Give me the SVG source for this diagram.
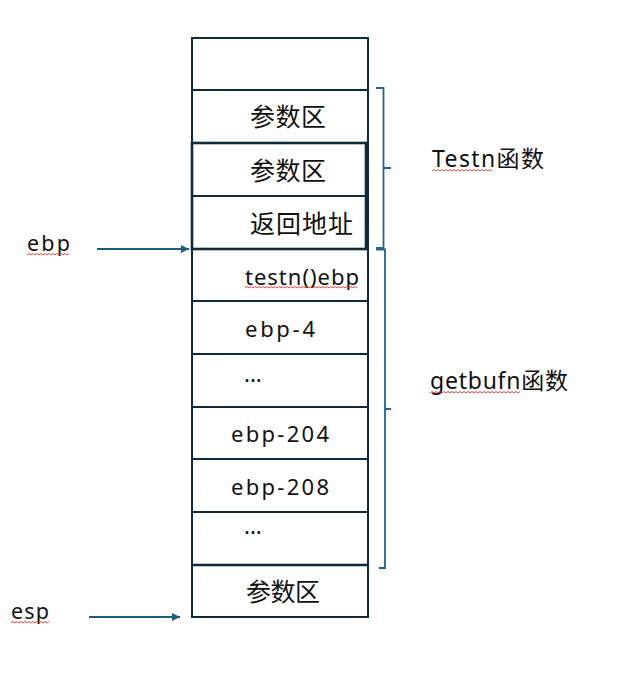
<svg xmlns="http://www.w3.org/2000/svg" width="617" height="677" viewBox="0 0 617 677">
<style>
.cell{fill:#fff;stroke:#0e2a3b;stroke-width:2}
.thick{fill:none;stroke:#0e2a3b;stroke-width:2.6}
.t{font-family:"Noto Sans","Liberation Sans","Noto Sans CJK SC",sans-serif;font-size:22px;fill:#111}
.cjk{font-family:"Noto Sans CJK SC","Liberation Sans",sans-serif;font-size:25px;fill:#111}
.lbl{font-family:"Noto Sans","Liberation Sans",sans-serif;font-size:21.5px;fill:#111}
.big{font-family:"Noto Sans","Noto Sans CJK SC",sans-serif;font-size:23px;fill:#111}
.br{fill:none;stroke:#21648c;stroke-width:1.8}
.arr{fill:none;stroke:#1b5e80;stroke-width:1.8}
.sq{fill:none;stroke:#e03030;stroke-width:0.9}
</style>
<defs>
<marker id="ah" viewBox="0 0 10 10" refX="10" refY="5" markerWidth="8" markerHeight="8" markerUnits="userSpaceOnUse" orient="auto">
<path d="M0,0 L10,5 L0,10 z" fill="#1b5e80"/>
</marker>
</defs>
<g id="stack">
<g id="cell0"><rect class="cell" x="192" y="38" width="176" height="52"/></g>
<g id="cell1"><rect class="cell" x="192" y="90" width="176" height="53"/><text class="cjk" x="250" y="126" textLength="76">参数区</text></g>
<g id="cell2"><rect class="cell" x="192" y="143" width="176" height="53"/><text class="cjk" x="250" y="179.5" textLength="76">参数区</text></g>
<g id="cell3"><rect class="cell" x="192" y="196" width="176" height="53"/><text class="cjk" x="250" y="232.5" textLength="103">返回地址</text></g>
<g id="cell4"><rect class="cell" x="192" y="249" width="176" height="52"/><text class="t" x="245" y="285" textLength="114">testn()ebp</text></g>
<g id="cell5"><rect class="cell" x="192" y="301" width="176" height="53"/><text class="t" x="245" y="337" textLength="70">ebp-4</text></g>
<g id="cell6"><rect class="cell" x="192" y="354" width="176" height="53"/><text class="t" x="244" y="382">...</text></g>
<g id="cell7"><rect class="cell" x="192" y="407" width="176" height="52"/><text class="t" x="231" y="442" textLength="98">ebp-204</text></g>
<g id="cell8"><rect class="cell" x="192" y="459" width="176" height="53"/><text class="t" x="231" y="494.5" textLength="98">ebp-208</text></g>
<g id="cell9"><rect class="cell" x="192" y="512" width="176" height="53"/><text class="t" x="244" y="534">...</text></g>
<g id="cell10"><rect class="cell" x="192" y="565" width="176" height="52"/><text class="cjk" x="246" y="601" textLength="74">参数区</text></g>
<rect class="thick" x="192" y="143" width="174" height="106"/>
<line class="thick" x1="192" y1="565" x2="368" y2="565"/>
</g>
<g id="labels">
<g id="ebp-label"><text class="lbl" x="27" y="251" textLength="43">ebp</text><path class="sq" d="M27,255 l2,-1.5 l2,1.5 l2,-1.5 l2,1.5 l2,-1.5 l2,1.5 l2,-1.5 l2,1.5 l2,-1.5 l2,1.5 l2,-1.5 l2,1.5 l2,-1.5 l2,1.5 l2,-1.5 l2,1.5 l2,-1.5 l2,1.5 l2,-1.5 l2,1.5 l2,-1.5"/></g>
<g id="esp-label"><text class="lbl" x="11" y="619" textLength="38">esp</text><path class="sq" d="M11,623 l2,-1.5 l2,1.5 l2,-1.5 l2,1.5 l2,-1.5 l2,1.5 l2,-1.5 l2,1.5 l2,-1.5 l2,1.5 l2,-1.5 l2,1.5 l2,-1.5 l2,1.5 l2,-1.5 l2,1.5 l2,-1.5 l2,1.5 l2,-1.5"/></g>
<g id="testn-label"><text class="big" x="432" y="167" textLength="112">Testn函数</text><path class="sq" d="M432,171 l2,-1.5 l2,1.5 l2,-1.5 l2,1.5 l2,-1.5 l2,1.5 l2,-1.5 l2,1.5 l2,-1.5 l2,1.5 l2,-1.5 l2,1.5 l2,-1.5 l2,1.5 l2,-1.5 l2,1.5 l2,-1.5 l2,1.5 l2,-1.5 l2,1.5 l2,-1.5 l2,1.5 l2,-1.5 l2,1.5 l2,-1.5 l2,1.5 l2,-1.5 l2,1.5 l2,-1.5 l2,1.5"/></g>
<g id="getbufn-label"><text class="big" x="430" y="389" textLength="138">getbufn函数</text><path class="sq" d="M430,393 l2,-1.5 l2,1.5 l2,-1.5 l2,1.5 l2,-1.5 l2,1.5 l2,-1.5 l2,1.5 l2,-1.5 l2,1.5 l2,-1.5 l2,1.5 l2,-1.5 l2,1.5 l2,-1.5 l2,1.5 l2,-1.5 l2,1.5 l2,-1.5 l2,1.5 l2,-1.5 l2,1.5 l2,-1.5 l2,1.5 l2,-1.5 l2,1.5 l2,-1.5 l2,1.5 l2,-1.5 l2,1.5 l2,-1.5 l2,1.5 l2,-1.5 l2,1.5 l2,-1.5 l2,1.5 l2,-1.5 l2,1.5 l2,-1.5 l2,1.5 l2,-1.5 l2,1.5 l2,-1.5 l2,1.5 l2,-1.5"/></g>
<path class="sq" d="M245,288 l2,-1.5 l2,1.5 l2,-1.5 l2,1.5 l2,-1.5 l2,1.5 l2,-1.5 l2,1.5 l2,-1.5 l2,1.5 l2,-1.5 l2,1.5 l2,-1.5 l2,1.5 l2,-1.5 l2,1.5 l2,-1.5 l2,1.5 l2,-1.5 l2,1.5 l2,-1.5 l2,1.5 l2,-1.5 l2,1.5 l2,-1.5 l2,1.5 l2,-1.5 l2,1.5 l2,-1.5 l2,1.5 l2,-1.5 l2,1.5 l2,-1.5 l2,1.5 l2,-1.5 l2,1.5 l2,-1.5 l2,1.5 l2,-1.5 l2,1.5 l2,-1.5 l2,1.5 l2,-1.5 l2,1.5 l2,-1.5 l2,1.5 l2,-1.5 l2,1.5 l2,-1.5 l2,1.5 l2,-1.5 l2,1.5 l2,-1.5 l2,1.5 l2,-1.5 l2,1.5"/>
</g>
<g id="connectors">
<line class="arr" x1="97" y1="249" x2="189" y2="249" marker-end="url(#ah)"/>
<line class="arr" x1="89" y1="617" x2="180" y2="617" marker-end="url(#ah)"/>
<path id="brace-testn" class="br" d="M376,88 H383.5 V248 H376 M383.5,168 H391"/>
<path id="brace-getbufn" class="br" d="M376,249.5 H385 V568 H379 M385,409 H391"/>
</g>
</svg>
